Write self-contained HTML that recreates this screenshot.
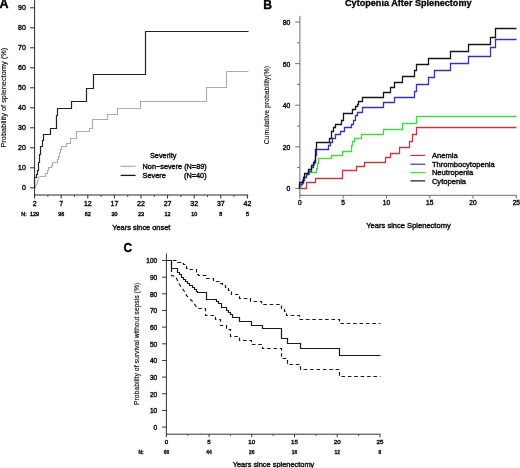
<!DOCTYPE html>
<html><head><meta charset="utf-8"><style>
html,body{margin:0;padding:0;background:#fff;width:520px;height:468px;overflow:hidden}
svg{display:block;will-change:transform}
text{font-family:"Liberation Sans", sans-serif}
</style></head><body>
<svg width="520" height="468" viewBox="0 0 520 468">
<rect width="520" height="468" fill="#fff"/>
<text x="-0.40" y="8.30" font-size="12.5" text-anchor="start" font-weight="bold" fill="#000" stroke="#000" stroke-width="0.35" >A</text>
<line x1="34.60" y1="0.00" x2="34.60" y2="195.50" stroke="#2a2a2a" stroke-width="1" />
<line x1="34.10" y1="195.00" x2="248.30" y2="195.00" stroke="#2a2a2a" stroke-width="1" />
<line x1="30.00" y1="187.80" x2="34.60" y2="187.80" stroke="#2a2a2a" stroke-width="1" />
<text x="25.80" y="190.30" font-size="7" text-anchor="end" font-weight="normal" fill="#111" stroke="#111" stroke-width="0.42" >0</text>
<line x1="30.00" y1="167.80" x2="34.60" y2="167.80" stroke="#2a2a2a" stroke-width="1" />
<text x="25.80" y="170.30" font-size="7" text-anchor="end" font-weight="normal" fill="#111" stroke="#111" stroke-width="0.42" >10</text>
<line x1="30.00" y1="147.80" x2="34.60" y2="147.80" stroke="#2a2a2a" stroke-width="1" />
<text x="25.80" y="150.30" font-size="7" text-anchor="end" font-weight="normal" fill="#111" stroke="#111" stroke-width="0.42" >20</text>
<line x1="30.00" y1="127.80" x2="34.60" y2="127.80" stroke="#2a2a2a" stroke-width="1" />
<text x="25.80" y="130.30" font-size="7" text-anchor="end" font-weight="normal" fill="#111" stroke="#111" stroke-width="0.42" >30</text>
<line x1="30.00" y1="107.80" x2="34.60" y2="107.80" stroke="#2a2a2a" stroke-width="1" />
<text x="25.80" y="110.30" font-size="7" text-anchor="end" font-weight="normal" fill="#111" stroke="#111" stroke-width="0.42" >40</text>
<line x1="30.00" y1="87.80" x2="34.60" y2="87.80" stroke="#2a2a2a" stroke-width="1" />
<text x="25.80" y="90.30" font-size="7" text-anchor="end" font-weight="normal" fill="#111" stroke="#111" stroke-width="0.42" >50</text>
<line x1="30.00" y1="67.80" x2="34.60" y2="67.80" stroke="#2a2a2a" stroke-width="1" />
<text x="25.80" y="70.30" font-size="7" text-anchor="end" font-weight="normal" fill="#111" stroke="#111" stroke-width="0.42" >60</text>
<line x1="30.00" y1="47.80" x2="34.60" y2="47.80" stroke="#2a2a2a" stroke-width="1" />
<text x="25.80" y="50.30" font-size="7" text-anchor="end" font-weight="normal" fill="#111" stroke="#111" stroke-width="0.42" >70</text>
<line x1="30.00" y1="27.80" x2="34.60" y2="27.80" stroke="#2a2a2a" stroke-width="1" />
<text x="25.80" y="30.30" font-size="7" text-anchor="end" font-weight="normal" fill="#111" stroke="#111" stroke-width="0.42" >80</text>
<line x1="30.00" y1="7.80" x2="34.60" y2="7.80" stroke="#2a2a2a" stroke-width="1" />
<text x="25.80" y="10.30" font-size="7" text-anchor="end" font-weight="normal" fill="#111" stroke="#111" stroke-width="0.42" >90</text>
<line x1="34.60" y1="195.00" x2="34.60" y2="198.50" stroke="#2a2a2a" stroke-width="1" />
<text x="34.60" y="205.50" font-size="7" text-anchor="middle" font-weight="normal" fill="#111" stroke="#111" stroke-width="0.42" >2</text>
<line x1="61.20" y1="195.00" x2="61.20" y2="198.50" stroke="#2a2a2a" stroke-width="1" />
<text x="61.20" y="205.50" font-size="7" text-anchor="middle" font-weight="normal" fill="#111" stroke="#111" stroke-width="0.42" >7</text>
<line x1="87.80" y1="195.00" x2="87.80" y2="198.50" stroke="#2a2a2a" stroke-width="1" />
<text x="87.80" y="205.50" font-size="7" text-anchor="middle" font-weight="normal" fill="#111" stroke="#111" stroke-width="0.42" >12</text>
<line x1="114.40" y1="195.00" x2="114.40" y2="198.50" stroke="#2a2a2a" stroke-width="1" />
<text x="114.40" y="205.50" font-size="7" text-anchor="middle" font-weight="normal" fill="#111" stroke="#111" stroke-width="0.42" >17</text>
<line x1="141.00" y1="195.00" x2="141.00" y2="198.50" stroke="#2a2a2a" stroke-width="1" />
<text x="141.00" y="205.50" font-size="7" text-anchor="middle" font-weight="normal" fill="#111" stroke="#111" stroke-width="0.42" >22</text>
<line x1="167.60" y1="195.00" x2="167.60" y2="198.50" stroke="#2a2a2a" stroke-width="1" />
<text x="167.60" y="205.50" font-size="7" text-anchor="middle" font-weight="normal" fill="#111" stroke="#111" stroke-width="0.42" >27</text>
<line x1="194.20" y1="195.00" x2="194.20" y2="198.50" stroke="#2a2a2a" stroke-width="1" />
<text x="194.20" y="205.50" font-size="7" text-anchor="middle" font-weight="normal" fill="#111" stroke="#111" stroke-width="0.42" >32</text>
<line x1="220.80" y1="195.00" x2="220.80" y2="198.50" stroke="#2a2a2a" stroke-width="1" />
<text x="220.80" y="205.50" font-size="7" text-anchor="middle" font-weight="normal" fill="#111" stroke="#111" stroke-width="0.42" >37</text>
<line x1="247.40" y1="195.00" x2="247.40" y2="198.50" stroke="#2a2a2a" stroke-width="1" />
<text x="247.40" y="205.50" font-size="7" text-anchor="middle" font-weight="normal" fill="#111" stroke="#111" stroke-width="0.42" >42</text>
<line x1="47.90" y1="195.00" x2="47.90" y2="197.00" stroke="#2a2a2a" stroke-width="0.8" />
<line x1="74.50" y1="195.00" x2="74.50" y2="197.00" stroke="#2a2a2a" stroke-width="0.8" />
<line x1="101.10" y1="195.00" x2="101.10" y2="197.00" stroke="#2a2a2a" stroke-width="0.8" />
<line x1="127.70" y1="195.00" x2="127.70" y2="197.00" stroke="#2a2a2a" stroke-width="0.8" />
<line x1="154.30" y1="195.00" x2="154.30" y2="197.00" stroke="#2a2a2a" stroke-width="0.8" />
<line x1="180.90" y1="195.00" x2="180.90" y2="197.00" stroke="#2a2a2a" stroke-width="0.8" />
<line x1="207.50" y1="195.00" x2="207.50" y2="197.00" stroke="#2a2a2a" stroke-width="0.8" />
<line x1="234.10" y1="195.00" x2="234.10" y2="197.00" stroke="#2a2a2a" stroke-width="0.8" />
<text x="21.30" y="216.30" font-size="5.4" text-anchor="start" font-weight="normal" fill="#111" stroke="#111" stroke-width="0.42" >N:</text>
<text x="34.60" y="216.30" font-size="5.4" text-anchor="middle" font-weight="normal" fill="#111" stroke="#111" stroke-width="0.42" >129</text>
<text x="61.20" y="216.30" font-size="5.4" text-anchor="middle" font-weight="normal" fill="#111" stroke="#111" stroke-width="0.42" >96</text>
<text x="87.80" y="216.30" font-size="5.4" text-anchor="middle" font-weight="normal" fill="#111" stroke="#111" stroke-width="0.42" >62</text>
<text x="114.40" y="216.30" font-size="5.4" text-anchor="middle" font-weight="normal" fill="#111" stroke="#111" stroke-width="0.42" >30</text>
<text x="141.00" y="216.30" font-size="5.4" text-anchor="middle" font-weight="normal" fill="#111" stroke="#111" stroke-width="0.42" >23</text>
<text x="167.60" y="216.30" font-size="5.4" text-anchor="middle" font-weight="normal" fill="#111" stroke="#111" stroke-width="0.42" >12</text>
<text x="194.20" y="216.30" font-size="5.4" text-anchor="middle" font-weight="normal" fill="#111" stroke="#111" stroke-width="0.42" >10</text>
<text x="220.80" y="216.30" font-size="5.4" text-anchor="middle" font-weight="normal" fill="#111" stroke="#111" stroke-width="0.42" >8</text>
<text x="247.40" y="216.30" font-size="5.4" text-anchor="middle" font-weight="normal" fill="#111" stroke="#111" stroke-width="0.42" >5</text>
<text x="141.30" y="229.80" font-size="7.4" text-anchor="middle" font-weight="normal" fill="#111" stroke="#111" stroke-width="0.42" >Years since onset</text>
<text transform="translate(5.9,97.7) rotate(-90)" x="0" y="0" font-size="7.4" text-anchor="middle" fill="#111" stroke="#111" stroke-width="0.15">Probability of splenectomy (%)</text>
<path d="M34.5,188.5 L35.5,186.5 L37.5,182.5 L38.5,177.5 L40.5,176.5 H45.5 V173.5 H47.5 V170.5 H48.5 V167.5 H51.5 V165.5 H52.5 V162.5 H57.5 V159.5 H58.5 V156.5 H59.5 V152.5 H60.5 V149.5 H61.5 V146.5 H66.5 V143.5 H70.5 V138.5 H76.5 V131.5 H89.5 V128.5 H92.5 V119.5 H107.5 V114.5 H117.5 V108.5 H140.5 V101.5 H206.5 V87.5 H226.5 V71.5 H248.5" fill="none" stroke="#adadad" stroke-width="1.2" stroke-linejoin="miter" />
<path d="M34.5,188.5 V177.5 H36.5 V174.5 H37.5 V170.5 H38.5 V166.5 H38.5 V162.5 H39.5 V158.5 H39.5 V154.5 H40.5 V150.5 H40.5 V146.5 H42.5 V140.5 H43.5 V134.5 H50.5 V128.5 H56.5 V121.5 H56.5 V115.5 H57.5 V108.5 H71.5 V101.5 H86.5 V88.5 H93.5 V74.5 H145.5 V31.5 H248.5" fill="none" stroke="#222" stroke-width="1.2" stroke-linejoin="miter" />
<text x="150.00" y="157.60" font-size="7.3" text-anchor="start" font-weight="normal" fill="#111" stroke="#111" stroke-width="0.42" >Severity</text>
<line x1="120.60" y1="166.30" x2="135.60" y2="166.30" stroke="#adadad" stroke-width="1.2" />
<line x1="120.60" y1="175.40" x2="135.60" y2="175.40" stroke="#1a1a1a" stroke-width="1.3" />
<text x="142.60" y="169.00" font-size="7.3" text-anchor="start" font-weight="normal" fill="#111" stroke="#111" stroke-width="0.42" >Non−severe (N=89)</text>
<text x="142.60" y="178.40" font-size="7.3" text-anchor="start" font-weight="normal" fill="#111" stroke="#111" stroke-width="0.42" >Severe</text>
<text x="184.10" y="178.40" font-size="7.3" text-anchor="start" font-weight="normal" fill="#111" stroke="#111" stroke-width="0.42" >(N=40)</text>
<text x="263.30" y="8.70" font-size="12.2" text-anchor="start" font-weight="bold" fill="#000" stroke="#000" stroke-width="0.35" >B</text>
<text x="408.30" y="5.80" font-size="9.1" text-anchor="middle" font-weight="bold" fill="#000" stroke="#000" stroke-width="0.3" >Cytopenia After Splenectomy</text>
<line x1="299.90" y1="15.90" x2="299.90" y2="195.80" stroke="#6e6e6e" stroke-width="1" />
<line x1="299.40" y1="195.30" x2="516.80" y2="195.30" stroke="#6e6e6e" stroke-width="1" />
<line x1="295.20" y1="188.40" x2="299.90" y2="188.40" stroke="#6e6e6e" stroke-width="1" />
<text x="290.40" y="191.30" font-size="6.8" text-anchor="end" font-weight="normal" fill="#111" stroke="#111" stroke-width="0.42" >0</text>
<line x1="297.00" y1="167.60" x2="299.90" y2="167.60" stroke="#6e6e6e" stroke-width="1" />
<line x1="295.20" y1="146.80" x2="299.90" y2="146.80" stroke="#6e6e6e" stroke-width="1" />
<text x="290.40" y="149.70" font-size="6.8" text-anchor="end" font-weight="normal" fill="#111" stroke="#111" stroke-width="0.42" >20</text>
<line x1="297.00" y1="126.00" x2="299.90" y2="126.00" stroke="#6e6e6e" stroke-width="1" />
<line x1="295.20" y1="105.20" x2="299.90" y2="105.20" stroke="#6e6e6e" stroke-width="1" />
<text x="290.40" y="108.10" font-size="6.8" text-anchor="end" font-weight="normal" fill="#111" stroke="#111" stroke-width="0.42" >40</text>
<line x1="297.00" y1="84.40" x2="299.90" y2="84.40" stroke="#6e6e6e" stroke-width="1" />
<line x1="295.20" y1="63.60" x2="299.90" y2="63.60" stroke="#6e6e6e" stroke-width="1" />
<text x="290.40" y="66.50" font-size="6.8" text-anchor="end" font-weight="normal" fill="#111" stroke="#111" stroke-width="0.42" >60</text>
<line x1="297.00" y1="42.80" x2="299.90" y2="42.80" stroke="#6e6e6e" stroke-width="1" />
<line x1="295.20" y1="22.00" x2="299.90" y2="22.00" stroke="#6e6e6e" stroke-width="1" />
<text x="290.40" y="24.90" font-size="6.8" text-anchor="end" font-weight="normal" fill="#111" stroke="#111" stroke-width="0.42" >80</text>
<line x1="299.90" y1="195.30" x2="299.90" y2="198.50" stroke="#6e6e6e" stroke-width="1" />
<text x="299.90" y="204.60" font-size="6.6" text-anchor="middle" font-weight="normal" fill="#111" stroke="#111" stroke-width="0.42" >0</text>
<line x1="343.18" y1="195.30" x2="343.18" y2="198.50" stroke="#6e6e6e" stroke-width="1" />
<text x="343.18" y="204.60" font-size="6.6" text-anchor="middle" font-weight="normal" fill="#111" stroke="#111" stroke-width="0.42" >5</text>
<line x1="386.46" y1="195.30" x2="386.46" y2="198.50" stroke="#6e6e6e" stroke-width="1" />
<text x="386.46" y="204.60" font-size="6.6" text-anchor="middle" font-weight="normal" fill="#111" stroke="#111" stroke-width="0.42" >10</text>
<line x1="429.74" y1="195.30" x2="429.74" y2="198.50" stroke="#6e6e6e" stroke-width="1" />
<text x="429.74" y="204.60" font-size="6.6" text-anchor="middle" font-weight="normal" fill="#111" stroke="#111" stroke-width="0.42" >15</text>
<line x1="473.02" y1="195.30" x2="473.02" y2="198.50" stroke="#6e6e6e" stroke-width="1" />
<text x="473.02" y="204.60" font-size="6.6" text-anchor="middle" font-weight="normal" fill="#111" stroke="#111" stroke-width="0.42" >20</text>
<line x1="516.30" y1="195.30" x2="516.30" y2="198.50" stroke="#6e6e6e" stroke-width="1" />
<text x="516.30" y="204.60" font-size="6.6" text-anchor="middle" font-weight="normal" fill="#111" stroke="#111" stroke-width="0.42" >25</text>
<text x="408.50" y="228.00" font-size="7.55" text-anchor="middle" font-weight="normal" fill="#111" stroke="#111" stroke-width="0.42" >Years since Splenectomy</text>
<text transform="translate(269.4,105.2) rotate(-90)" x="0" y="0" font-size="6.88" text-anchor="middle" fill="#111" stroke="#111" stroke-width="0.15">Cumulative probability(%)</text>
<path d="M299.5,188.5 H306.5 V182.5 H315.5 V178.5 H342.5 V170.5 H356.5 V166.5 H364.5 V162.5 H385.5 V157.5 H390.5 V153.5 H399.5 V147.5 H409.5 V141.5 H412.5 V134.5 H416.5 V127.5 H516.5" fill="none" stroke="#c43a44" stroke-width="1.3" stroke-linejoin="miter" />
<path d="M299.5,188.5 V186.5 H301.5 V183.5 H303.5 V180.5 H304.5 V176.5 H306.5 V174.5 H309.5 V172.5 H316.5 V168.5 H317.5 V163.5 H318.5 V158.5 H331.5 V155.5 H342.5 V151.5 H351.5 V145.5 H352.5 V141.5 H354.5 V138.5 H361.5 V134.5 H383.5 V129.5 H402.5 V123.5 H416.5 V116.5 H516.5" fill="none" stroke="#46d646" stroke-width="1.3" stroke-linejoin="miter" />
<path d="M299.5,188.5 V184.5 H302.5 V180.5 H304.5 V177.5 H306.5 V174.5 H308.5 V171.5 H311.5 V167.5 H313.5 V164.5 H314.5 V160.5 H315.5 V155.5 H316.5 V149.5 H328.5 V145.5 H330.5 V142.5 H332.5 V138.5 H335.5 V134.5 H340.5 V131.5 H344.5 V127.5 H351.5 V124.5 H353.5 V120.5 H355.5 V115.5 H357.5 V112.5 H362.5 V107.5 H383.5 V102.5 H394.5 V97.5 H414.5 V91.5 H416.5 V84.5 H428.5 V77.5 H434.5 V70.5 H450.5 V63.5 H468.5 V56.5 H490.5 V47.5 H495.5 V39.5 H516.5" fill="none" stroke="#3535b0" stroke-width="1.3" stroke-linejoin="miter" />
<path d="M299.5,188.5 V182.5 H303.5 V177.5 H304.5 V173.5 H308.5 V169.5 H311.5 V165.5 H313.5 V162.5 H315.5 V149.5 H316.5 V142.5 H329.5 V138.5 H331.5 V131.5 H333.5 V127.5 H335.5 V124.5 H341.5 V120.5 H343.5 V116.5 H343.5 V113.5 H352.5 V109.5 H355.5 V106.5 H357.5 V104.5 H358.5 V101.5 H362.5 V97.5 H383.5 V92.5 H390.5 V87.5 H394.5 V82.5 H402.5 V76.5 H414.5 V70.5 H416.5 V64.5 H428.5 V58.5 H450.5 V51.5 H468.5 V44.5 H490.5 V37.5 H495.5 V28.5 H516.5" fill="none" stroke="#151515" stroke-width="1.3" stroke-linejoin="miter" />
<line x1="410.40" y1="155.40" x2="425.20" y2="155.40" stroke="#c43a44" stroke-width="1.2" />
<text x="431.90" y="158.05" font-size="7.6" text-anchor="start" font-weight="normal" fill="#111" stroke="#111" stroke-width="0.42" >Anemia</text>
<line x1="410.40" y1="164.20" x2="425.20" y2="164.20" stroke="#3535b0" stroke-width="1.2" />
<text x="431.90" y="166.85" font-size="7.6" text-anchor="start" font-weight="normal" fill="#111" stroke="#111" stroke-width="0.42" >Thrombocytopenia</text>
<line x1="410.40" y1="172.60" x2="425.20" y2="172.60" stroke="#46d646" stroke-width="1.2" />
<text x="431.90" y="175.25" font-size="7.6" text-anchor="start" font-weight="normal" fill="#111" stroke="#111" stroke-width="0.42" >Neutropenia</text>
<line x1="410.40" y1="180.90" x2="425.20" y2="180.90" stroke="#151515" stroke-width="1.2" />
<text x="431.90" y="183.55" font-size="7.6" text-anchor="start" font-weight="normal" fill="#111" stroke="#111" stroke-width="0.42" >Cytopenia</text>
<text x="123.60" y="252.20" font-size="12" text-anchor="start" font-weight="bold" fill="#000" stroke="#000" stroke-width="0.35" >C</text>
<line x1="166.40" y1="253.50" x2="166.40" y2="434.70" stroke="#333" stroke-width="1" />
<line x1="165.90" y1="434.20" x2="380.40" y2="434.20" stroke="#333" stroke-width="1" />
<line x1="162.10" y1="427.10" x2="166.40" y2="427.10" stroke="#333" stroke-width="1" />
<text x="157.20" y="429.90" font-size="6.5" text-anchor="end" font-weight="normal" fill="#111" stroke="#111" stroke-width="0.42" >0</text>
<line x1="162.10" y1="410.44" x2="166.40" y2="410.44" stroke="#333" stroke-width="1" />
<text x="157.20" y="413.24" font-size="6.5" text-anchor="end" font-weight="normal" fill="#111" stroke="#111" stroke-width="0.42" >10</text>
<line x1="162.10" y1="393.78" x2="166.40" y2="393.78" stroke="#333" stroke-width="1" />
<text x="157.20" y="396.58" font-size="6.5" text-anchor="end" font-weight="normal" fill="#111" stroke="#111" stroke-width="0.42" >20</text>
<line x1="162.10" y1="377.12" x2="166.40" y2="377.12" stroke="#333" stroke-width="1" />
<text x="157.20" y="379.92" font-size="6.5" text-anchor="end" font-weight="normal" fill="#111" stroke="#111" stroke-width="0.42" >30</text>
<line x1="162.10" y1="360.46" x2="166.40" y2="360.46" stroke="#333" stroke-width="1" />
<text x="157.20" y="363.26" font-size="6.5" text-anchor="end" font-weight="normal" fill="#111" stroke="#111" stroke-width="0.42" >40</text>
<line x1="162.10" y1="343.80" x2="166.40" y2="343.80" stroke="#333" stroke-width="1" />
<text x="157.20" y="346.60" font-size="6.5" text-anchor="end" font-weight="normal" fill="#111" stroke="#111" stroke-width="0.42" >50</text>
<line x1="162.10" y1="327.14" x2="166.40" y2="327.14" stroke="#333" stroke-width="1" />
<text x="157.20" y="329.94" font-size="6.5" text-anchor="end" font-weight="normal" fill="#111" stroke="#111" stroke-width="0.42" >60</text>
<line x1="162.10" y1="310.48" x2="166.40" y2="310.48" stroke="#333" stroke-width="1" />
<text x="157.20" y="313.28" font-size="6.5" text-anchor="end" font-weight="normal" fill="#111" stroke="#111" stroke-width="0.42" >70</text>
<line x1="162.10" y1="293.82" x2="166.40" y2="293.82" stroke="#333" stroke-width="1" />
<text x="157.20" y="296.62" font-size="6.5" text-anchor="end" font-weight="normal" fill="#111" stroke="#111" stroke-width="0.42" >80</text>
<line x1="162.10" y1="277.16" x2="166.40" y2="277.16" stroke="#333" stroke-width="1" />
<text x="157.20" y="279.96" font-size="6.5" text-anchor="end" font-weight="normal" fill="#111" stroke="#111" stroke-width="0.42" >90</text>
<line x1="162.10" y1="260.50" x2="166.40" y2="260.50" stroke="#333" stroke-width="1" />
<text x="157.20" y="263.30" font-size="6.5" text-anchor="end" font-weight="normal" fill="#111" stroke="#111" stroke-width="0.42" >100</text>
<line x1="166.40" y1="434.20" x2="166.40" y2="437.20" stroke="#333" stroke-width="1" />
<text x="166.40" y="443.70" font-size="6.2" text-anchor="middle" font-weight="normal" fill="#111" stroke="#111" stroke-width="0.42" >0</text>
<line x1="209.10" y1="434.20" x2="209.10" y2="437.20" stroke="#333" stroke-width="1" />
<text x="209.10" y="443.70" font-size="6.2" text-anchor="middle" font-weight="normal" fill="#111" stroke="#111" stroke-width="0.42" >5</text>
<line x1="251.80" y1="434.20" x2="251.80" y2="437.20" stroke="#333" stroke-width="1" />
<text x="251.80" y="443.70" font-size="6.2" text-anchor="middle" font-weight="normal" fill="#111" stroke="#111" stroke-width="0.42" >10</text>
<line x1="294.50" y1="434.20" x2="294.50" y2="437.20" stroke="#333" stroke-width="1" />
<text x="294.50" y="443.70" font-size="6.2" text-anchor="middle" font-weight="normal" fill="#111" stroke="#111" stroke-width="0.42" >15</text>
<line x1="337.20" y1="434.20" x2="337.20" y2="437.20" stroke="#333" stroke-width="1" />
<text x="337.20" y="443.70" font-size="6.2" text-anchor="middle" font-weight="normal" fill="#111" stroke="#111" stroke-width="0.42" >20</text>
<line x1="379.90" y1="434.20" x2="379.90" y2="437.20" stroke="#333" stroke-width="1" />
<text x="379.90" y="443.70" font-size="6.2" text-anchor="middle" font-weight="normal" fill="#111" stroke="#111" stroke-width="0.42" >25</text>
<line x1="187.75" y1="434.20" x2="187.75" y2="436.00" stroke="#333" stroke-width="0.8" />
<line x1="230.45" y1="434.20" x2="230.45" y2="436.00" stroke="#333" stroke-width="0.8" />
<line x1="273.15" y1="434.20" x2="273.15" y2="436.00" stroke="#333" stroke-width="0.8" />
<line x1="315.85" y1="434.20" x2="315.85" y2="436.00" stroke="#333" stroke-width="0.8" />
<line x1="358.55" y1="434.20" x2="358.55" y2="436.00" stroke="#333" stroke-width="0.8" />
<text x="138.50" y="453.70" font-size="4.9" text-anchor="start" font-weight="bold" fill="#111" stroke="#111" stroke-width="0.3" >N:</text>
<text x="166.40" y="453.70" font-size="4.9" text-anchor="middle" font-weight="bold" fill="#111" stroke="#111" stroke-width="0.3" >66</text>
<text x="209.10" y="453.70" font-size="4.9" text-anchor="middle" font-weight="bold" fill="#111" stroke="#111" stroke-width="0.3" >44</text>
<text x="251.80" y="453.70" font-size="4.9" text-anchor="middle" font-weight="bold" fill="#111" stroke="#111" stroke-width="0.3" >26</text>
<text x="294.50" y="453.70" font-size="4.9" text-anchor="middle" font-weight="bold" fill="#111" stroke="#111" stroke-width="0.3" >16</text>
<text x="337.20" y="453.70" font-size="4.9" text-anchor="middle" font-weight="bold" fill="#111" stroke="#111" stroke-width="0.3" >12</text>
<text x="379.90" y="453.70" font-size="4.9" text-anchor="middle" font-weight="bold" fill="#111" stroke="#111" stroke-width="0.3" >8</text>
<text x="273.50" y="466.80" font-size="7.41" text-anchor="middle" font-weight="normal" fill="#111" stroke="#111" stroke-width="0.42" >Years since splenectomy</text>
<text transform="translate(138.9,343.9) rotate(-90)" x="0" y="0" font-size="6.86" text-anchor="middle" fill="#111" stroke="#111" stroke-width="0.15">Probability of survival without sepsis (%)</text>
<path d="M166.5,260.5 H171.5 V264.5 H171.5 V268.5 H177.5 V272.5 H179.5 V274.5 H181.5 V277.5 H183.5 V279.5 H185.5 V281.5 H187.5 V283.5 H189.5 V285.5 H192.5 V287.5 H194.5 V289.5 H196.5 V291.5 H197.5 V292.5 H206.5 V299.5 H216.5 V301.5 H218.5 V303.5 H221.5 V307.5 H226.5 V310.5 H228.5 V312.5 H230.5 V314.5 H232.5 V317.5 H239.5 V321.5 H251.5 V325.5 H262.5 V328.5 H281.5 V338.5 H287.5 V343.5 H300.5 V348.5 H339.5 V355.5 H380.5" fill="none" stroke="#1a1a1a" stroke-width="1.2" stroke-linejoin="miter" />
<path d="M166.5,260.5 H177.5 V262.5 H180.5 V263.5 H183.5 V264.5 H185.5 V265.5 H186.5 V268.5 H188.5 V269.5 H196.5 V274.5 H198.5 V275.5 H206.5 V278.5 H213.5 V280.5 H216.5 V281.5 H220.5 V283.5 H222.5 V285.5 H225.5 V287.5 H228.5 V290.5 H231.5 V294.5 H239.5 V298.5 H250.5 V301.5 H261.5 V304.5 H281.5 V308.5 H284.5 V311.5 H286.5 V315.5 H299.5 V319.5 H339.5 V323.5 H380.5" fill="none" stroke="#1a1a1a" stroke-width="1.2" stroke-linejoin="miter" stroke-dasharray="3.6 2.8"/>
<path d="M166.5,260.5 H171.5 V275.5 L175.5,276.5 L177.5,280.5 L179.5,284.5 L181.5,287.5 L184.5,291.5 L186.5,295.5 L189.5,298.5 L192.5,301.5 L195.5,305.5 L197.5,308.5 H205.5 V315.5 H215.5 V319.5 H220.5 V325.5 H226.5 V329.5 H230.5 V336.5 H239.5 V340.5 H251.5 V344.5 H262.5 V348.5 H281.5 V358.5 H287.5 V364.5 H300.5 V369.5 H339.5 V376.5 H380.5" fill="none" stroke="#1a1a1a" stroke-width="1.2" stroke-linejoin="miter" stroke-dasharray="3.6 2.8"/>
</svg>
</body></html>
